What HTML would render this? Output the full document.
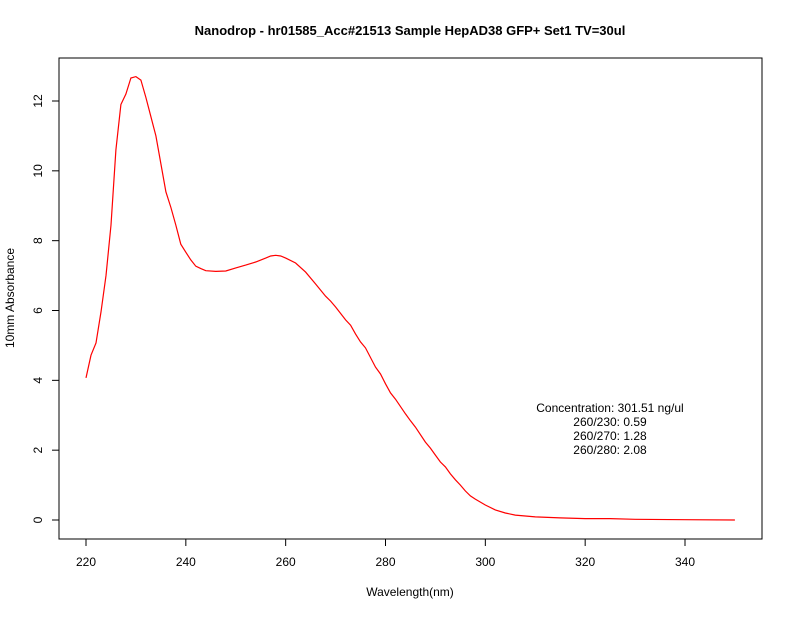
<!DOCTYPE html>
<html><head><meta charset="utf-8"><style>
body{margin:0;background:#fff}
svg text{font-family:"Liberation Sans",sans-serif}
</style></head><body>
<svg id="chart" width="792" height="612" xmlns="http://www.w3.org/2000/svg">
<rect width="792" height="612" fill="#fff"/>
<text x="410" y="35" text-anchor="middle" font-size="13" font-weight="bold">Nanodrop - hr01585_Acc#21513 Sample HepAD38 GFP+ Set1 TV=30ul</text>
<rect x="59" y="58" width="703" height="481" fill="none" stroke="#000"/>
<g id="xaxis"></g>
<g id="yaxis"></g>
<text x="410" y="596" text-anchor="middle" font-size="12">Wavelength(nm)</text>
<text transform="translate(14,298) rotate(-90)" text-anchor="middle" font-size="12">10mm Absorbance</text>
<path id="line" fill="none" stroke="#ff0000" stroke-width="1.2"/>
<g font-size="12" text-anchor="middle">
<text x="610" y="412">Concentration: 301.51 ng/ul</text>
<text x="610" y="426">260/230: 0.59</text>
<text x="610" y="440">260/270: 1.28</text>
<text x="610" y="454">260/280: 2.08</text>
</g>
</svg>
<script>
const wavelengths=[220,221,222,223,224,225,226,227,228,229,230,231,232,233,234,235,236,237,238,239,240,241,242,243,244,246,248,250,252,254,256,257,258,259,260,262,264,266,268,269,270,272,273,274,275,276,278,279,280,281,282,284,285,286,288,289,290,291,292,293,294,295,296,297,298,300,302,304,306,310,315,320,325,330,340,350];
const absorbance=[4.07,4.72,5.07,5.96,7.0,8.45,10.6,11.9,12.2,12.66,12.7,12.6,12.1,11.55,11.0,10.2,9.4,8.95,8.45,7.9,7.67,7.45,7.27,7.2,7.14,7.12,7.13,7.22,7.3,7.39,7.5,7.56,7.58,7.56,7.5,7.36,7.1,6.76,6.41,6.27,6.1,5.73,5.58,5.33,5.1,4.93,4.38,4.18,3.9,3.64,3.46,3.04,2.84,2.66,2.23,2.06,1.86,1.66,1.52,1.32,1.15,1.0,0.83,0.69,0.6,0.43,0.29,0.2,0.14,0.09,0.06,0.04,0.04,0.02,0.01,0.0];
const xTicks=[220,240,260,280,300,320,340];
const yTicks=[0,2,4,6,8,10,12];
const NS="http://www.w3.org/2000/svg";
function sx(w){return 86+(w-220)*(599/120);}
function sy(v){return 520-v*(419/12);}
let d="";
wavelengths.forEach((w,i)=>{d+=(i?"L":"M")+sx(w).toFixed(1)+","+sy(absorbance[i]).toFixed(1);});
document.getElementById("line").setAttribute("d",d);
const xa=document.getElementById("xaxis");
let ax=document.createElementNS(NS,"line");
ax.setAttribute("x1",sx(220));ax.setAttribute("x2",sx(340));ax.setAttribute("y1",539);ax.setAttribute("y2",539);ax.setAttribute("stroke","#000");


xa.appendChild(ax);
xTicks.forEach(t=>{
 const l=document.createElementNS(NS,"line");
 l.setAttribute("x1",sx(t));l.setAttribute("x2",sx(t));l.setAttribute("y1",539);l.setAttribute("y2",546);l.setAttribute("stroke","#000");
 
 
 xa.appendChild(l);
 const tx=document.createElementNS(NS,"text");
 tx.setAttribute("x",sx(t));tx.setAttribute("y",566);tx.setAttribute("text-anchor","middle");tx.setAttribute("font-size","12");
 tx.textContent=t;
 
 
 xa.appendChild(tx);
});
const ya=document.getElementById("yaxis");
let ay=document.createElementNS(NS,"line");
ay.setAttribute("x1",59);ay.setAttribute("x2",59);ay.setAttribute("y1",sy(0));ay.setAttribute("y2",sy(12));ay.setAttribute("stroke","#000");


ya.appendChild(ay);
yTicks.forEach(t=>{
 const l=document.createElementNS(NS,"line");
 l.setAttribute("x1",52);l.setAttribute("x2",59);l.setAttribute("y1",sy(t));l.setAttribute("y2",sy(t));l.setAttribute("stroke","#000");
 
 
 ya.appendChild(l);
 const tx=document.createElementNS(NS,"text");
 tx.setAttribute("transform","translate(42,"+sy(t)+") rotate(-90)");tx.setAttribute("text-anchor","middle");tx.setAttribute("font-size","12");
 tx.textContent=t;
 
 
 ya.appendChild(tx);
});
</script>
</body></html>
